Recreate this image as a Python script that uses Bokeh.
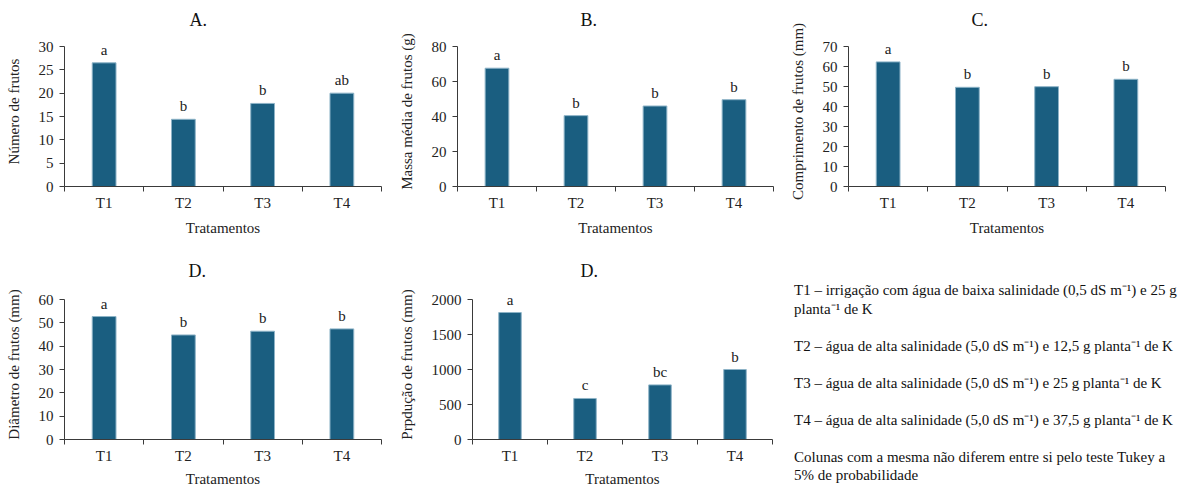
from bokeh.plotting import figure
from bokeh.models import Range1d, FixedTicker, ColumnDataSource, LabelSet, Div
from bokeh.layouts import row, column
from bokeh.embed import file_html
from bokeh.resources import INLINE

# ---------------- data ----------------
categories = ["T1", "T2", "T3", "T4"]
numero_frutos = [26.5, 14.4, 17.8, 20.0]
massa_media = [67.6, 40.5, 46.0, 49.6]
comprimento = [62.3, 49.6, 49.9, 53.6]
diametro = [52.7, 44.8, 46.4, 47.4]
producao = [1814, 586, 780, 1000]

letras_numero = ["a", "b", "b", "ab"]
letras_massa = ["a", "b", "b", "b"]
letras_comprimento = ["a", "b", "b", "b"]
letras_diametro = ["a", "b", "b", "b"]
letras_producao = ["a", "c", "bc", "b"]

titles = ["A.", "B.", "C.", "D.", "D."]
ylabels = ["Número de frutos", "Massa média de frutos (g)", "Comprimento de frutos (mm)",
           "Diâmetro de frutos (mm)", "Prpdução de frutos (mm)"]
xlabel = "Tratamentos"
ymax = [30, 80, 70, 60, 2000]
ystep = [5, 20, 10, 10, 500]

FONT = "Liberation Serif"
BAR = "#1a5e80"
AX = "#3a3a3a"
AXIS_H = 140      # pixel height of the drawn y axis
HEAD = 10         # free room above the axis top for the letters


def panel(title, ylabel, vals, letters, y_max, y_step, width, height,
          bl, br, bt, bb, fw, title_off, title_standoff, xlab_standoff):
    xpos = [i + 0.5 for i in range(len(categories))]
    src = ColumnDataSource(dict(x=xpos, top=vals, lab=letters))
    y_end = y_max * (AXIS_H + HEAD) / AXIS_H
    p = figure(width=width, height=height, frame_width=fw, frame_height=AXIS_H + HEAD,
               x_range=Range1d(0, len(categories)), y_range=Range1d(0, y_end),
               output_backend="svg", toolbar_location=None,
               min_border_left=bl, min_border_right=br, min_border_top=bt, min_border_bottom=bb)
    p.vbar(x="x", top="top", width=0.3, source=src, fill_color=BAR,
           line_color="#8db3c7", line_width=1)
    p.add_layout(LabelSet(x="x", y="top", text="lab", source=src, text_align="center",
                          text_baseline="alphabetic", y_offset=8, text_font=FONT,
                          text_font_size="15px", text_color="#222222"))
    p.title.text = title
    p.title.align = "left"
    p.title.offset = title_off
    p.title.text_font = FONT
    p.title.text_font_size = "18px"
    p.title.text_font_style = "normal"
    p.title.text_color = "#111111"
    p.title.standoff = title_standoff
    p.outline_line_color = None
    p.xgrid.visible = False
    p.ygrid.visible = False

    xa = p.xaxis[0]
    xa.ticker = FixedTicker(ticks=xpos, minor_ticks=list(range(len(categories) + 1)))
    xa.major_label_overrides = {x: c for x, c in zip(xpos, categories)}
    xa.major_tick_line_color = None
    xa.major_tick_out = 0
    xa.major_tick_in = 0
    xa.minor_tick_out = 5
    xa.minor_tick_in = 0
    xa.minor_tick_line_color = AX
    xa.axis_line_color = AX
    xa.major_label_standoff = 3
    xa.axis_label = xlabel
    xa.axis_label_standoff = xlab_standoff

    ya = p.yaxis[0]
    ya.bounds = (0, y_max)
    ya.ticker = FixedTicker(ticks=list(range(0, y_max + 1, y_step)), minor_ticks=[])
    ya.major_tick_out = 5
    ya.major_tick_in = 0
    ya.major_tick_line_color = AX
    ya.axis_line_color = AX
    ya.major_label_standoff = 6
    ya.axis_label = ylabel
    ya.axis_label_standoff = 14

    for ax in (xa, ya):
        ax.major_label_text_font = FONT
        ax.major_label_text_font_size = "15px"
        ax.major_label_text_color = "#222222"
        ax.axis_label_text_font = FONT
        ax.axis_label_text_font_size = "15px"
        ax.axis_label_text_font_style = "normal"
        ax.axis_label_text_color = "#222222"
    return p


pA = panel(titles[0], ylabels[0], numero_frutos, letras_numero, ymax[0], ystep[0],
           395, 245, 64, 14, 36, 59, 317, 125, 14, 6)
pB = panel(titles[1], ylabels[1], massa_media, letras_massa, ymax[1], ystep[1],
           390, 245, 62, 12, 36, 59, 316, 123, 14, 6)
pC = panel(titles[2], ylabels[2], comprimento, letras_comprimento, ymax[2], ystep[2],
           399, 245, 63, 19, 36, 59, 317, 123, 14, 6)
pD = panel(titles[3], ylabels[3], diametro, letras_diametro, ymax[3], ystep[3],
           395, 241, 64, 14, 44, 47, 317, 124, 18, 4)
pE = panel(titles[4], ylabels[4], producao, letras_producao, ymax[4], ystep[4],
           385, 241, 77, 8, 44, 47, 300, 108, 18, 4)

legend_lines = [
    "T1 – irrigação com água de baixa salinidade (0,5 dS m⁻¹) e 25 g<br>planta⁻¹ de K",
    "T2 – água de alta salinidade (5,0 dS m⁻¹) e 12,5 g planta⁻¹ de K",
    "T3 – água de alta salinidade (5,0 dS m⁻¹) e 25 g planta⁻¹ de K",
    "T4 – água de alta salinidade (5,0 dS m⁻¹) e 37,5 g planta⁻¹ de K",
    "Colunas com a mesma não diferem entre si pelo teste Tukey a<br>5% de probabilidade",
]
html = "".join(
    f'<div style="margin:0 0 18.5px 0; white-space:nowrap; font-family:\'{FONT}\', serif; '
    f'font-size:15px; line-height:18.5px; color:#111111;">{t}</div>'
    for t in legend_lines
)
div = Div(text=html, width=404, height=241,
          styles={"font-family": FONT, "font-size": "15px", "line-height": "18.5px",
                  "color": "#111111", "padding-left": "9px", "padding-top": "31px",
                  "box-sizing": "border-box"})

layout = column(row(pA, pB, pC), row(pD, pE, div))

open("out.html", "w").write(file_html(layout, INLINE))
